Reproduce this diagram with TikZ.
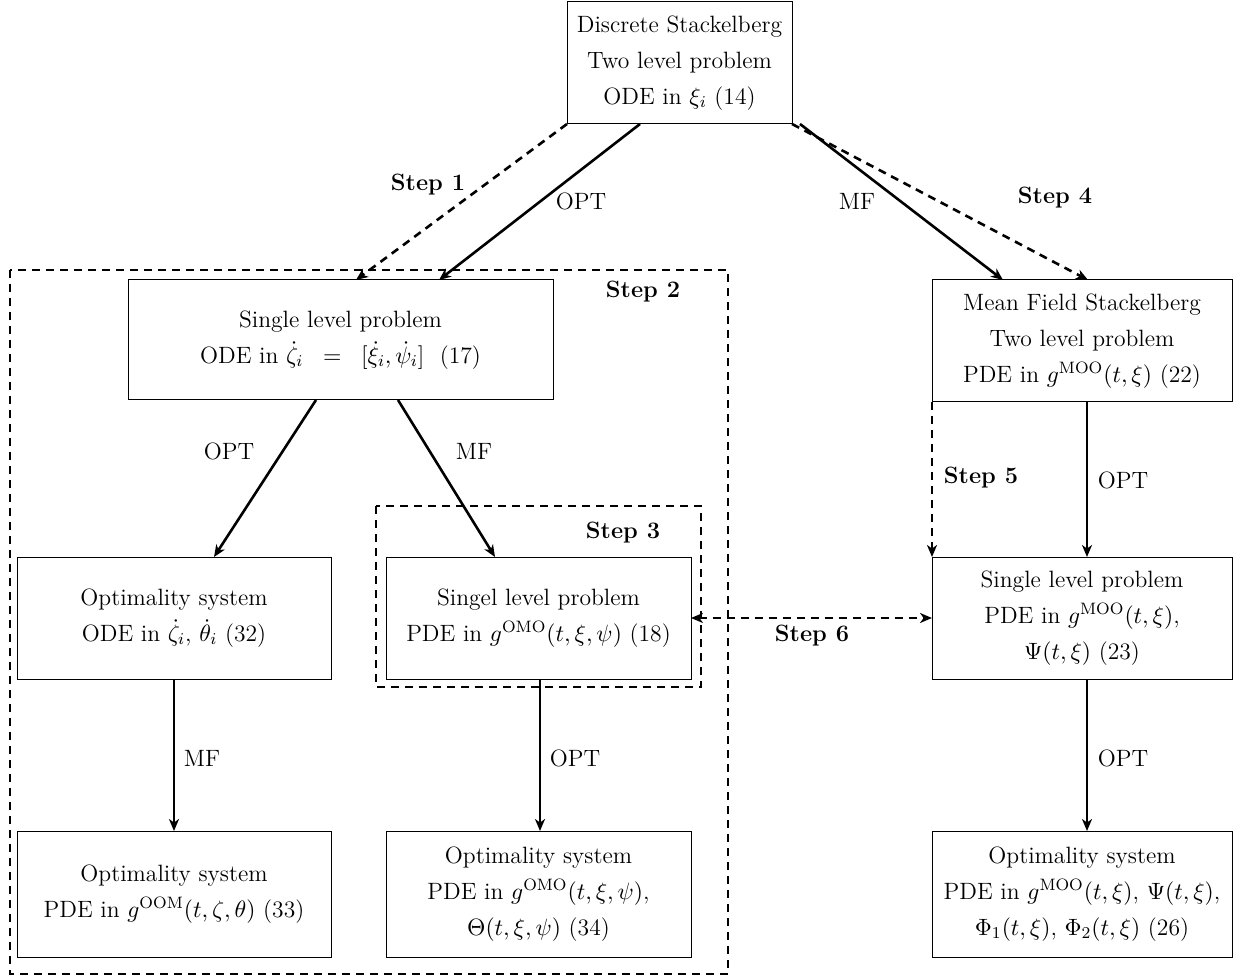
\RequirePackage{fix-cm}
\documentclass[tikz,border=0pt]{standalone}
\usetikzlibrary{arrows.meta,calc}
\begin{document}
\begin{tikzpicture}[x=0.5pt,y=-0.5pt,
  every node/.style={font=\fontsize{11.8}{18}\selectfont},
  box/.style={draw,line width=0.5pt,align=center,inner sep=0pt,outer sep=0pt},
  arr/.style={line width=1.3pt,-{Stealth[length=6pt,width=5pt,inset=1.8pt]}},
  darr/.style={arr,dash pattern=on 4pt off 3pt},
  dbox/.style={line width=1.3pt,dash pattern=on 4pt off 3pt},
  lab/.style={inner sep=1pt},
  steplab/.style={inner sep=1pt,font=\fontsize{11.8}{18}\selectfont\bfseries}]
\useasboundingbox (0,0) rectangle (1247,978);
% boxes
\node[box,minimum width=112.5pt,minimum height=61pt] (top) at (679.5,63)
  {Discrete Stackelberg\\Two level problem\\ODE in $\xi_i$ (14)};
\node[box,minimum width=212.5pt,minimum height=60pt] (single) at (340.5,340)
  {Single level problem\\ODE in $\dot{\zeta}_i\;\;=\;\;[\dot{\xi}_i,\dot{\psi}_i]$\ \ (17)};
\node[box,minimum width=150pt,minimum height=61pt] (mfs) at (1082,341)
  {Mean Field Stackelberg\\Two level problem\\PDE in $g^{\mathrm{MOO}}(t,\xi)$ (22)};
\node[box,minimum width=157pt,minimum height=61pt] (optl) at (174,618)
  {Optimality system\\ODE in $\dot{\zeta}_i$, $\dot{\theta}_i$ (32)};
\node[box,minimum width=152.5pt,minimum height=61pt] (mid) at (538.5,618)
  {Singel level problem\\PDE in $g^{\mathrm{OMO}}(t,\xi,\psi)$ (18)};
\node[box,minimum width=150pt,minimum height=61pt] (rs) at (1082,618)
  {Single level problem\\PDE in $g^{\mathrm{MOO}}(t,\xi)$,\\$\Psi(t,\xi)$ (23)};
\node[box,minimum width=157pt,minimum height=63pt] (bl) at (174,894)
  {Optimality system\\PDE in $g^{\mathrm{OOM}}(t,\zeta,\theta)$ (33)};
\node[box,minimum width=152.5pt,minimum height=63pt] (bm) at (538.5,894)
  {Optimality system\\PDE in $g^{\mathrm{OMO}}(t,\xi,\psi)$,\\$\Theta(t,\xi,\psi)$ (34)};
\node[box,minimum width=150pt,minimum height=63pt] (br) at (1082,894)
  {Optimality system\\PDE in $g^{\mathrm{MOO}}(t,\xi)$, $\Psi(t,\xi)$,\\$\Phi_1(t,\xi)$, $\Phi_2(t,\xi)$ (26)};
% dashed frames
\draw[dbox] (10,270) rectangle (728,974);
\draw[dbox] (376,506) rectangle (701,687);
% arrows from top
\draw[darr] (top.south west) -- ($(single.north west)+(228,0)$);
\draw[arr] ($(top.south west)+(73,0)$) -- ($(single.north west)+(311,0)$);
\draw[arr] ($(top.south west)+(233,0)$) -- ($(mfs.north west)+(71,0)$);
\draw[darr] (top.south east) -- ($(mfs.north west)+(156,0)$);
% from single
\draw[arr] ($(single.south west)+(188,0)$) -- ($(optl.north west)+(197,0)$);
\draw[arr] ($(single.south west)+(270,0)$) -- ($(mid.north west)+(109,0)$);
% from mfs
\draw[darr] (mfs.south west) -- (rs.north west);
\draw[arr] ($(mfs.south west)+(155,0)$) -- ($(rs.north west)+(155,0)$);
% verticals
\draw[arr] (optl.south) -- (bl.north);
\draw[arr] ($(mid.south west)+(154,0)$) -- ($(bm.north west)+(154,0)$);
\draw[arr] ($(rs.south west)+(155,0)$) -- ($(br.north west)+(155,0)$);
% step 6
\draw[darr,{Stealth[length=6pt,width=5pt,inset=1.8pt]}-{Stealth[length=6pt,width=5pt,inset=1.8pt]}] (mid.east) -- (rs.west);
% labels
\node[steplab] (s1) at (428,185) {Step 1};
\node[lab] (o1) at (581,201) {OPT};
\node[lab] (m1) at (857,201) {MF};
\node[steplab] (s4) at (1055,198) {Step 4};
\node[steplab] (s2) at (643,292) {Step 2};
\node[lab] (o2) at (229,451) {OPT};
\node[lab] (m2) at (474,451) {MF};
\node[steplab] (s3) at (623,533) {Step 3};
\node[steplab] (s5) at (981,478) {Step 5};
\node[lab] (o3) at (1123,480) {OPT};
\node[steplab] (s6) at (812,636) {Step 6};
\node[lab] (m3) at (202,758) {MF};
\node[lab] (o4) at (575,758) {OPT};
\node[lab] (o5) at (1123,758) {OPT};
\end{tikzpicture}
\end{document}
